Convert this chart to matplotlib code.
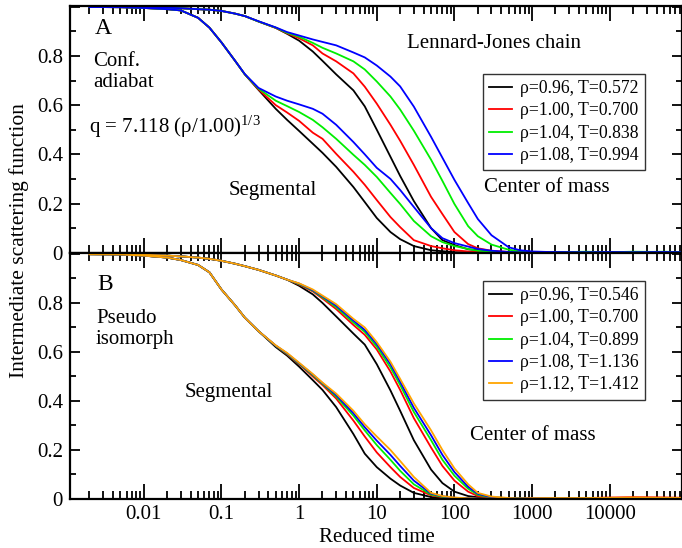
import matplotlib
matplotlib.use('Agg')
import matplotlib.pyplot as plt
from matplotlib.ticker import LogLocator, MultipleLocator, FixedLocator, NullFormatter

plt.rcParams['font.family'] = 'Liberation Serif'
plt.rcParams['mathtext.fontset'] = 'custom'
plt.rcParams['mathtext.rm'] = 'Liberation Serif'
plt.rcParams['mathtext.it'] = 'Liberation Serif:italic'

# reduced time grid (shared by all curves)
time = [0.002, 0.005, 0.01, 0.02, 0.03, 0.05, 0.07,
        0.1, 0.15, 0.2, 0.3, 0.5, 0.7,
        1, 1.5, 2, 3, 5, 7,
        10, 15, 20, 30, 50, 70,
        100, 150, 200, 300, 500, 700,
        1000, 2000, 5000,
        1e4, 2e4, 5e4, 1e5]

# --- A: configurational adiabat ---
segA_096 = [0.999, 0.998, 0.995, 0.99, 0.985, 0.955, 0.915, 0.855, 0.78, 0.725, 0.662, 0.585, 0.54,
            0.495, 0.443, 0.406, 0.349, 0.267, 0.206, 0.141, 0.084, 0.055, 0.027, 0.01, 0.006,
            0.002, 0.001, 0.0, 0.0, 0.0, 0.001, 0.001, 0.0, 0.001, 0.0, 0.001, 0.0, 0.001]
segA_100 = [0.999, 0.998, 0.995, 0.99, 0.985, 0.955, 0.915, 0.855, 0.78, 0.725, 0.664, 0.60, 0.57,
            0.536, 0.488, 0.463, 0.402, 0.329, 0.276, 0.214, 0.145, 0.104, 0.051, 0.027, 0.018,
            0.01, 0.005, 0.003, 0.001, 0.0, 0.0, 0.002, 0.001, 0.002, 0.001, 0.002, 0.001, 0.002]
segA_104 = [0.999, 0.998, 0.995, 0.99, 0.985, 0.955, 0.915, 0.855, 0.78, 0.725, 0.667, 0.618, 0.596,
            0.572, 0.54, 0.51, 0.463, 0.398, 0.357, 0.308, 0.243, 0.198, 0.129, 0.067, 0.043,
            0.027, 0.015, 0.008, 0.004, 0.002, 0.001, 0.002, 0.003, 0.002, 0.003, 0.002, 0.004, 0.002]
segA_108 = [0.999, 0.998, 0.995, 0.99, 0.985, 0.955, 0.915, 0.855, 0.78, 0.726, 0.67, 0.635, 0.618,
            0.603, 0.585, 0.565, 0.52, 0.45, 0.40, 0.345, 0.30, 0.255, 0.186, 0.10, 0.059,
            0.039, 0.025, 0.015, 0.008, 0.003, 0.001, 0.001, 0.002, 0.001, 0.002, 0.001, 0.002, 0.001]

comA_096 = [0.999, 0.999, 0.998, 0.996, 0.994, 0.99, 0.988, 0.983, 0.972, 0.962, 0.94, 0.914, 0.89,
            0.862, 0.818, 0.78, 0.725, 0.66, 0.595, 0.50, 0.39, 0.312, 0.21, 0.10, 0.051,
            0.031, 0.014, 0.01, 0.005, 0.002, 0.001, 0.001, 0.002, 0.001, 0.002, 0.001, 0.002, 0.001]
comA_100 = [0.999, 0.999, 0.998, 0.996, 0.994, 0.99, 0.988, 0.983, 0.972, 0.962, 0.94, 0.914, 0.892,
            0.872, 0.843, 0.81, 0.778, 0.729, 0.675, 0.606, 0.52, 0.455, 0.357, 0.227, 0.157,
            0.084, 0.035, 0.018, 0.008, 0.003, 0.001, 0.001, 0.002, 0.001, 0.003, 0.002, 0.002, 0.002]
comA_104 = [0.999, 0.999, 0.998, 0.996, 0.994, 0.99, 0.988, 0.983, 0.972, 0.962, 0.94, 0.915, 0.894,
            0.878, 0.853, 0.833, 0.81, 0.778, 0.745, 0.696, 0.635, 0.582, 0.496, 0.378, 0.292,
            0.198, 0.108, 0.067, 0.033, 0.012, 0.006, 0.003, 0.002, 0.004, 0.002, 0.004, 0.003, 0.002]
comA_108 = [0.999, 0.999, 0.998, 0.996, 0.994, 0.99, 0.988, 0.983, 0.972, 0.962, 0.941, 0.916, 0.897,
            0.883, 0.867, 0.857, 0.843, 0.814, 0.794, 0.761, 0.716, 0.676, 0.594, 0.471, 0.386,
            0.296, 0.202, 0.137, 0.071, 0.022, 0.01, 0.005, 0.002, 0.001, 0.002, 0.001, 0.002, 0.001]

labels_A = ['ρ=0.96, T=0.572', 'ρ=1.00, T=0.700', 'ρ=1.04, T=0.838', 'ρ=1.08, T=0.994']

# --- B: pseudo isomorph ---
segB_096 = [0.999, 0.998, 0.993, 0.985, 0.975, 0.955, 0.925, 0.855, 0.79, 0.74, 0.685, 0.62, 0.585,
            0.54, 0.485, 0.445, 0.375, 0.265, 0.185, 0.13, 0.083, 0.055, 0.025, 0.008, 0.004,
            0.002, 0.001, 0.0, 0.0, 0.0, 0.001, 0.0, 0.001, 0.0, 0.001, 0.0, 0.001, 0.0]
segB_100 = [0.999, 0.998, 0.993, 0.985, 0.975, 0.955, 0.925, 0.855, 0.79, 0.74, 0.685, 0.625, 0.59,
            0.55, 0.50, 0.465, 0.41, 0.32, 0.255, 0.19, 0.13, 0.09, 0.045, 0.015, 0.007,
            0.003, 0.002, 0.001, 0.0, 0.001, 0.0, 0.001, 0.002, 0.003, 0.004, 0.006, 0.005, 0.003]
segB_104 = [0.999, 0.998, 0.993, 0.985, 0.975, 0.955, 0.925, 0.855, 0.79, 0.74, 0.685, 0.625, 0.592,
            0.552, 0.505, 0.47, 0.418, 0.34, 0.28, 0.22, 0.16, 0.115, 0.06, 0.018, 0.009,
            0.004, 0.002, 0.001, 0.001, 0.0, 0.001, 0.0, 0.001, 0.002, 0.001, 0.002, 0.001, 0.002]
segB_108 = [0.999, 0.998, 0.993, 0.985, 0.975, 0.955, 0.925, 0.855, 0.79, 0.74, 0.685, 0.626, 0.594,
            0.554, 0.508, 0.473, 0.424, 0.35, 0.293, 0.238, 0.18, 0.135, 0.075, 0.022, 0.011,
            0.005, 0.003, 0.001, 0.001, 0.001, 0.0, 0.001, 0.002, 0.001, 0.002, 0.003, 0.002, 0.001]
segB_112 = [0.999, 0.998, 0.993, 0.985, 0.975, 0.955, 0.925, 0.855, 0.79, 0.74, 0.685, 0.627, 0.596,
            0.556, 0.51, 0.475, 0.43, 0.36, 0.305, 0.255, 0.20, 0.155, 0.09, 0.025, 0.012,
            0.006, 0.003, 0.001, 0.001, 0.0, 0.001, 0.002, 0.001, 0.003, 0.004, 0.005, 0.004, 0.003]

comB_096 = [0.999, 0.999, 0.997, 0.993, 0.99, 0.985, 0.98, 0.972, 0.96, 0.95, 0.935, 0.912, 0.895,
            0.87, 0.835, 0.80, 0.745, 0.675, 0.63, 0.55, 0.443, 0.36, 0.24, 0.12, 0.065,
            0.03, 0.012, 0.007, 0.003, 0.001, 0.001, 0.0, 0.001, 0.0, 0.001, 0.0, 0.001, 0.0]
comB_100 = [0.999, 0.999, 0.997, 0.993, 0.99, 0.985, 0.98, 0.972, 0.96, 0.95, 0.935, 0.912, 0.895,
            0.875, 0.847, 0.818, 0.775, 0.71, 0.67, 0.61, 0.52, 0.445, 0.33, 0.21, 0.135,
            0.075, 0.03, 0.012, 0.005, 0.002, 0.001, 0.002, 0.003, 0.004, 0.006, 0.007, 0.006, 0.005]
comB_104 = [0.999, 0.999, 0.997, 0.993, 0.99, 0.985, 0.98, 0.972, 0.96, 0.95, 0.935, 0.912, 0.895,
            0.877, 0.85, 0.823, 0.783, 0.72, 0.682, 0.622, 0.537, 0.465, 0.355, 0.24, 0.16,
            0.095, 0.042, 0.017, 0.007, 0.003, 0.002, 0.001, 0.002, 0.001, 0.002, 0.001, 0.002, 0.001]
comB_108 = [0.999, 0.999, 0.997, 0.993, 0.99, 0.985, 0.98, 0.972, 0.96, 0.95, 0.935, 0.912, 0.895,
            0.879, 0.852, 0.827, 0.789, 0.728, 0.69, 0.632, 0.55, 0.478, 0.372, 0.26, 0.18,
            0.11, 0.05, 0.021, 0.008, 0.003, 0.002, 0.003, 0.002, 0.001, 0.002, 0.001, 0.002, 0.001]
comB_112 = [0.999, 0.999, 0.997, 0.993, 0.99, 0.985, 0.98, 0.972, 0.96, 0.95, 0.935, 0.912, 0.895,
            0.88, 0.855, 0.83, 0.795, 0.735, 0.70, 0.64, 0.56, 0.49, 0.39, 0.28, 0.20,
            0.125, 0.06, 0.025, 0.01, 0.004, 0.002, 0.003, 0.004, 0.003, 0.005, 0.006, 0.005, 0.004]

labels_B = ['ρ=0.96, T=0.546', 'ρ=1.00, T=0.700', 'ρ=1.04, T=0.899',
            'ρ=1.08, T=1.136', 'ρ=1.12, T=1.412']

colors = ['black', '#ff0000', '#00ee00', '#0000ff', '#ffa500']

W, H = 682, 548
fig = plt.figure(figsize=(W / 100, H / 100), dpi=100)

left = 70 / W
axA = fig.add_axes([left, 1 - 252.7 / H, 1.0 - left, (252.7 - 5.5) / H])
axB = fig.add_axes([left, 1 - 499 / H, 1.0 - left, (499 - 252.7) / H])

lw = 1.3
for seg, com, lab, c in zip([segA_096, segA_100, segA_104, segA_108],
                            [comA_096, comA_100, comA_104, comA_108],
                            labels_A, colors):
    axA.plot(time, com, color=c, lw=lw, label=lab)
    axA.plot(time, seg, color=c, lw=lw)

for seg, com, lab, c in zip([segB_096, segB_100, segB_104, segB_108, segB_112],
                            [comB_096, comB_100, comB_104, comB_108, comB_112],
                            labels_B, colors):
    axB.plot(time, com, color=c, lw=lw, label=lab)
    axB.plot(time, seg, color=c, lw=lw)

xticks = [0.01, 0.1, 1, 10, 100, 1000, 10000]
xticklabels = ['0.01', '0.1', '1', '10', '100', '1000', '10000']

for ax in (axA, axB):
    ax.set_xscale('log')
    ax.set_xlim(10 ** -2.95, 10 ** 4.93)
    ax.set_ylim(0, 1.005)
    ax.xaxis.set_major_locator(FixedLocator([1e-3, 1e-2, 1e-1, 1, 10, 100, 1e3, 1e4, 1e5]))
    ax.xaxis.set_minor_locator(LogLocator(base=10, subs=range(2, 10), numticks=20))
    ax.xaxis.set_minor_formatter(NullFormatter())
    ax.yaxis.set_major_locator(FixedLocator([0, 0.2, 0.4, 0.6, 0.8, 1.0]))
    ax.yaxis.set_minor_locator(MultipleLocator(0.1))
    ax.set_yticklabels(['0', '0.2', '0.4', '0.6', '0.8', ''])
    ax.tick_params(which='both', direction='in', top=True, right=True, width=1.3)
    ax.tick_params(axis='x', which='major', length=11, pad=4, labelsize=15)
    ax.tick_params(axis='x', which='minor', length=6)
    ax.tick_params(axis='y', which='major', length=7, pad=5, labelsize=15)
    ax.tick_params(axis='y', which='minor', length=4)
    for sp in ax.spines.values():
        sp.set_linewidth(1.6)

axA.set_xticklabels([])
axB.set_xticks([1e-3] + xticks + [1e5])
axB.set_xticklabels([''] + xticklabels + [''])
axB.set_xlim(10 ** -2.95, 10 ** 4.93)

leg_kw = dict(loc='upper left', bbox_transform=fig.transFigure, borderaxespad=0,
              fontsize=12.7, frameon=True, fancybox=False, handlelength=1.3,
              handletextpad=0.45, labelspacing=0.3, borderpad=0.35)

legA = axA.legend(bbox_to_anchor=(483 / W, 1 - 74 / H), **leg_kw)
legB = axB.legend(bbox_to_anchor=(483 / W, 1 - 281 / H), **leg_kw)
for leg in (legA, legB):
    leg.get_frame().set_edgecolor('black')
    leg.get_frame().set_linewidth(1.0)


def ftext(x, y, s, **kw):
    fig.text(x / W, 1 - y / H, s, va='center', **kw)


ftext(95, 29, 'A', fontsize=17)
ftext(93, 72, 'Conf.\nadiabat', fontsize=15, linespacing=1.15)
ftext(89, 127, r'q = 7.118 (ρ/1.00)$^{1/3}$', fontsize=15)
ftext(229, 191, 'Segmental', fontsize=15)
ftext(407, 43, 'Lennard-Jones chain', fontsize=15)
ftext(484, 188, 'Center of mass', fontsize=15)

ftext(97, 285, 'B', fontsize=17)
ftext(96, 329, 'Pseudo\nisomorph', fontsize=15, linespacing=1.15)
ftext(185, 392, 'Segmental', fontsize=15)
ftext(470, 435, 'Center of mass', fontsize=15)

fig.text(19 / W, 1 - 241 / H, 'Intermediate scattering function', rotation=90,
         ha='center', va='center', fontsize=15.5)
fig.text(377 / W, 1 - 538 / H, 'Reduced time', ha='center', va='center', fontsize=15)

fig.savefig('out.png', dpi=100)
